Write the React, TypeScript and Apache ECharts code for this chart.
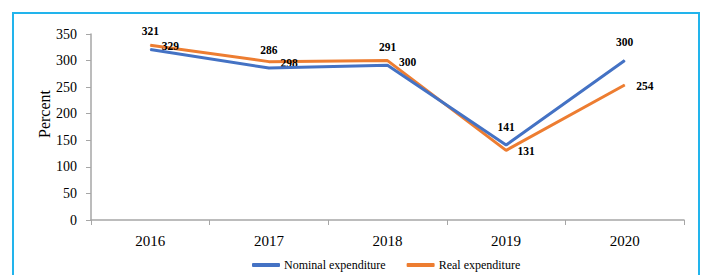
import React, { useEffect, useRef } from "react";
import * as echarts from "echarts";

const years = ["2016", "2017", "2018", "2019", "2020"];
const nominal = [321, 286, 291, 141, 300];
const real = [329, 298, 300, 131, 254];
const yTicks = { min: 0, max: 350, interval: 50 };

const FONT = "Liberation Serif";

export default function App() {
  const ref = useRef<HTMLDivElement>(null);
  useEffect(() => {
    if (!ref.current) return;
    const chart = echarts.init(ref.current, null, { renderer: "svg" });
    chart.setOption({
      animation: false,
      backgroundColor: "#ffffff",
      textStyle: { fontFamily: FONT },
      grid: { left: 91, right: 19, top: 34, bottom: 55 },
      graphic: [
        {
          type: "rect",
          shape: { x: 13, y: 13, width: 686, height: 290 },
          style: { fill: "none", stroke: "#22B4EC", lineWidth: 2 },
          silent: true,
        },
        {
          type: "text",
          x: 44,
          y: 114,
          rotation: Math.PI / 2,
          style: {
            text: "Percent",
            fontFamily: FONT,
            fontSize: 16,
            fill: "#000",
            align: "center",
            verticalAlign: "middle",
          },
        },
      ],
      legend: {
        left: 247,
        top: 254,
        itemWidth: 28,
        itemHeight: 4,
        itemGap: 21,
        icon: "roundRect",
        textStyle: { fontFamily: FONT, fontSize: 12, color: "#000", padding: [0, 0, 0, -1] },
        data: ["Nominal expenditure", "Real expenditure"],
      },
      xAxis: {
        type: "category",
        data: years,
        boundaryGap: true,
        axisLine: { lineStyle: { color: "#A6A6A6", width: 1.5 } },
        axisTick: { show: true, length: 5, alignWithLabel: false, lineStyle: { color: "#A6A6A6" } },
        axisLabel: { fontFamily: FONT, fontSize: 15, color: "#000", margin: 13 },
        splitLine: { show: false },
      },
      yAxis: {
        type: "value",
        min: yTicks.min,
        max: yTicks.max,
        interval: yTicks.interval,
        axisLine: { show: true, lineStyle: { color: "#A6A6A6", width: 1.5 } },
        axisTick: { show: true, length: 5, lineStyle: { color: "#A6A6A6" } },
        axisLabel: { fontFamily: FONT, fontSize: 14, color: "#000", margin: 14 },
        splitLine: { show: false },
      },
      series: [
        {
          name: "Nominal expenditure",
          type: "line",
          data: nominal,
          color: "#4472C4",
          symbol: "circle",
          symbolSize: 1,
          showSymbol: true,
          lineStyle: { width: 3, color: "#4472C4" },
          label: {
            show: true,
            position: "top",
            distance: 12,
            fontFamily: FONT,
            fontSize: 11.5,
            fontWeight: "bold",
            color: "#000",
          },
          z: 3,
        },
        {
          name: "Real expenditure",
          type: "line",
          data: real,
          color: "#ED7D31",
          symbol: "circle",
          symbolSize: 1,
          showSymbol: true,
          lineStyle: { width: 3, color: "#ED7D31" },
          label: {
            show: true,
            position: "right",
            distance: 11,
            offset: [0, 1],
            fontFamily: FONT,
            fontSize: 11.5,
            fontWeight: "bold",
            color: "#000",
          },
          z: 2,
        },
      ],
    });
    return () => chart.dispose();
  }, []);
  return <div ref={ref} style={{ width: 703, height: 275, position: "absolute", left: 0, top: 0 }} />;
}
